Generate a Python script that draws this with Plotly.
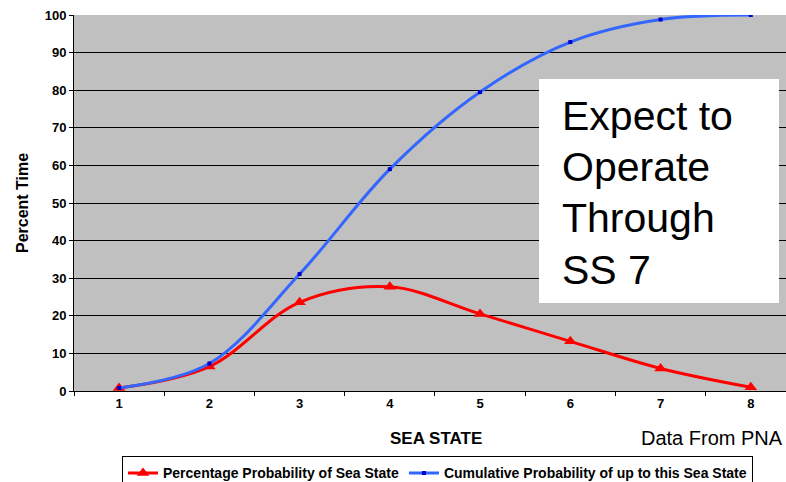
import plotly.graph_objects as go

sea_states = ["1", "2", "3", "4", "5", "6", "7", "8"]
pct_prob = [0.8, 6.5, 23.6, 27.7, 20.5, 13.2, 6.0, 1.0]
cum_prob = [0.8, 7.3, 31.1, 59.0, 79.5, 92.8, 98.8, 100.0]
y_ticks = [0, 10, 20, 30, 40, 50, 60, 70, 80, 90, 100]
box_lines = ["Expect to", "Operate", "Through", "SS 7"]

FONT = "Liberation Sans, Arial, sans-serif"

fig = go.Figure()
fig.add_trace(go.Scatter(
    x=sea_states, y=pct_prob, mode="lines+markers",
    name="Percentage Probability of Sea State",
    line=dict(color="#FF0000", width=3, shape="spline", smoothing=1.0),
    marker=dict(symbol="triangle-up", size=11, color="#FF0000"),
))
fig.add_trace(go.Scatter(
    x=sea_states, y=cum_prob, mode="lines+markers",
    name="Cumulative Probability of up to this Sea State",
    line=dict(color="#3366FF", width=3, shape="spline", smoothing=1.0),
    marker=dict(symbol="square", size=4, color="#0000CC"),
))

fig.update_layout(
    width=786, height=482,
    margin=dict(l=74, r=0, t=15, b=91, autoexpand=False),
    paper_bgcolor="white",
    plot_bgcolor="#C0C0C0",
    font=dict(family=FONT, color="black"),
    showlegend=True,
    legend=dict(
        orientation="h", x=0.0674, y=-0.174, xanchor="left", yanchor="top",
        bordercolor="black", borderwidth=1, bgcolor="white",
        font=dict(size=14, weight="bold", family=FONT),
        itemwidth=30, tracegroupgap=0,
    ),
)
fig.update_xaxes(
    type="category", range=[-0.5, 7.39],
    tickson="boundaries", ticks="outside", ticklen=4, tickcolor="black",
    showline=True, linecolor="black", linewidth=1,
    showgrid=False, zeroline=False,
    tickfont=dict(size=13, weight="bold", family=FONT),
)
fig.update_yaxes(
    range=[0, 100], tickvals=y_ticks,
    ticks="outside", ticklen=4, tickcolor="black",
    showline=True, linecolor="black", linewidth=1,
    showgrid=True, gridcolor="black", gridwidth=1, zeroline=False,
    tickfont=dict(size=13, weight="bold", family=FONT),
)

# Text box
fig.add_shape(type="rect", xref="paper", yref="paper",
              x0=0.6531, x1=0.9902, y0=0.234, y1=0.8298,
              fillcolor="white", line=dict(width=0), layer="above")
for i, line in enumerate(box_lines):
    py = 115.8 + 51.3 * i
    fig.add_annotation(xref="paper", yref="paper", x=0.6826, y=(391 - py) / 376,
                       xanchor="left", yanchor="middle", align="left",
                       showarrow=False, text=line,
                       font=dict(size=41, family=FONT, color="black"))

# Axis titles
fig.add_annotation(xref="paper", yref="paper", x=0.5084, y=-0.125,
                   xanchor="center", yanchor="middle", showarrow=False,
                   text="SEA STATE",
                   font=dict(size=17, weight="bold", family=FONT))
fig.add_annotation(xref="paper", yref="paper", x=-0.0730, y=0.5,
                   xanchor="center", yanchor="middle", showarrow=False,
                   textangle=-90, text="Percent Time",
                   font=dict(size=16, weight="bold", family=FONT))
fig.add_annotation(xref="paper", yref="paper", x=0.7935, y=-0.124,
                   xanchor="left", yanchor="middle", showarrow=False,
                   text="Data From PNA",
                   font=dict(size=20, family=FONT))

fig.write_html("out.html")
